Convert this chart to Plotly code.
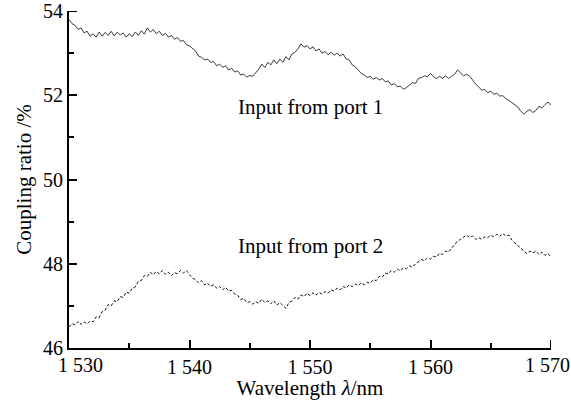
import plotly.graph_objects as go

# Wavelength samples (nm)
wavelength = [
    1530.00, 1530.25, 1530.50, 1530.75, 1531.00, 1531.25, 1531.50, 1531.75,
    1532.00, 1532.25, 1532.50, 1532.75, 1533.00, 1533.25, 1533.50, 1533.75,
    1534.00, 1534.25, 1534.50, 1534.75, 1535.00, 1535.25, 1535.50, 1535.75,
    1536.00, 1536.25, 1536.50, 1536.75, 1537.00, 1537.25, 1537.50, 1537.75,
    1538.00, 1538.25, 1538.50, 1538.75, 1539.00, 1539.25, 1539.50, 1539.75,
    1540.00, 1540.25, 1540.50, 1540.75, 1541.00, 1541.25, 1541.50, 1541.75,
    1542.00, 1542.25, 1542.50, 1542.75, 1543.00, 1543.25, 1543.50, 1543.75,
    1544.00, 1544.25, 1544.50, 1544.75, 1545.00, 1545.25, 1545.50, 1545.75,
    1546.00, 1546.25, 1546.50, 1546.75, 1547.00, 1547.25, 1547.50, 1547.75,
    1548.00, 1548.25, 1548.50, 1548.75, 1549.00, 1549.25, 1549.50, 1549.75,
    1550.00, 1550.25, 1550.50, 1550.75, 1551.00, 1551.25, 1551.50, 1551.75,
    1552.00, 1552.25, 1552.50, 1552.75, 1553.00, 1553.25, 1553.50, 1553.75,
    1554.00, 1554.25, 1554.50, 1554.75, 1555.00, 1555.25, 1555.50, 1555.75,
    1556.00, 1556.25, 1556.50, 1556.75, 1557.00, 1557.25, 1557.50, 1557.75,
    1558.00, 1558.25, 1558.50, 1558.75, 1559.00, 1559.25, 1559.50, 1559.75,
    1560.00, 1560.25, 1560.50, 1560.75, 1561.00, 1561.25, 1561.50, 1561.75,
    1562.00, 1562.25, 1562.50, 1562.75, 1563.00, 1563.25, 1563.50, 1563.75,
    1564.00, 1564.25, 1564.50, 1564.75, 1565.00, 1565.25, 1565.50, 1565.75,
    1566.00, 1566.25, 1566.50, 1566.75, 1567.00, 1567.25, 1567.50, 1567.75,
    1568.00, 1568.25, 1568.50, 1568.75, 1569.00, 1569.25, 1569.50, 1569.75,
    1570.00,
]

# Coupling ratio (%), input from port 1
port1 = [
    53.80, 53.70, 53.66, 53.56, 53.60, 53.48, 53.52, 53.40,
    53.46, 53.38, 53.50, 53.40, 53.49, 53.42, 53.52, 53.41,
    53.50, 53.43, 53.48, 53.38, 53.46, 53.39, 53.50, 53.42,
    53.53, 53.45, 53.60, 53.50, 53.56, 53.46, 53.52, 53.42,
    53.47, 53.38, 53.42, 53.33, 53.37, 53.28, 53.30, 53.20,
    53.17, 53.10, 53.05, 52.93, 52.90, 52.84, 52.86, 52.78,
    52.80, 52.70, 52.74, 52.66, 52.70, 52.60, 52.64, 52.55,
    52.58, 52.48, 52.50, 52.43, 52.47, 52.45, 52.54, 52.62,
    52.74, 52.66, 52.78, 52.72, 52.84, 52.75, 52.86, 52.78,
    52.92, 52.84, 52.98, 53.02, 53.10, 53.22, 53.14, 53.18,
    53.10, 53.15, 53.05, 53.10, 53.00, 53.04, 52.96, 53.02,
    52.95, 53.00, 52.93, 52.98, 52.86, 52.84, 52.72, 52.68,
    52.60, 52.52, 52.48, 52.42, 52.45, 52.38, 52.42, 52.36,
    52.40, 52.32, 52.34, 52.24, 52.28, 52.20, 52.22, 52.14,
    52.18, 52.24, 52.30, 52.28, 52.40, 52.42, 52.46, 52.44,
    52.52, 52.44, 52.40, 52.45, 52.40, 52.46, 52.40, 52.45,
    52.50, 52.60, 52.52, 52.46, 52.50, 52.45, 52.36, 52.26,
    52.20, 52.12, 52.14, 52.06, 52.10, 52.02, 52.05, 51.98,
    51.99, 51.92, 51.88, 51.82, 51.78, 51.72, 51.62, 51.55,
    51.62, 51.66, 51.59, 51.64, 51.74, 51.70, 51.78, 51.84,
    51.76,
]

# Coupling ratio (%), input from port 2
port2 = [
    46.50, 46.58, 46.55, 46.63, 46.56, 46.62, 46.57, 46.64,
    46.62, 46.74, 46.72, 46.86, 46.90, 47.03, 47.00, 47.12,
    47.10, 47.22, 47.20, 47.33, 47.30, 47.42, 47.45, 47.58,
    47.60, 47.72, 47.70, 47.80, 47.74, 47.82, 47.76, 47.84,
    47.75, 47.80, 47.72, 47.79, 47.76, 47.84, 47.78, 47.84,
    47.74, 47.66, 47.62, 47.55, 47.60, 47.50, 47.54, 47.46,
    47.50, 47.42, 47.46, 47.38, 47.44, 47.35, 47.37, 47.28,
    47.25, 47.15, 47.18, 47.08, 47.10, 47.04, 47.10, 47.06,
    47.16, 47.08, 47.12, 47.05, 47.12, 47.02, 47.08, 47.00,
    46.94, 47.08, 47.12, 47.20, 47.16, 47.26, 47.22, 47.30,
    47.24, 47.31, 47.26, 47.32, 47.28, 47.34, 47.30, 47.38,
    47.35, 47.42, 47.38, 47.46, 47.42, 47.50, 47.46, 47.52,
    47.48, 47.55, 47.50, 47.56, 47.54, 47.62, 47.60, 47.70,
    47.68, 47.78, 47.76, 47.84, 47.80, 47.87, 47.83, 47.90,
    47.88, 47.95, 47.92, 48.00, 48.06, 48.10, 48.07, 48.14,
    48.11, 48.18, 48.16, 48.25, 48.22, 48.30, 48.28, 48.36,
    48.44, 48.54, 48.58, 48.64, 48.68, 48.62, 48.66, 48.58,
    48.62, 48.58, 48.64, 48.62, 48.68, 48.64, 48.70, 48.65,
    48.72, 48.66, 48.68, 48.56, 48.50, 48.42, 48.38, 48.30,
    48.24, 48.30, 48.26, 48.30, 48.22, 48.28, 48.20, 48.24,
    48.16,
]

x_tickvals = [1530, 1540, 1550, 1560, 1570]
x_ticktext = ["1 530", "1 540", "1 550", "1 560", "1 570"]
y_tickvals = [46, 48, 50, 52, 54]
y_ticktext = ["46", "48", "50", "52", "54"]

label1 = "Input from port 1"
label2 = "Input from port 2"

FONT = "'Times New Roman', 'Liberation Serif', Tinos, serif"
MAJOR_LEN = 8

fig = go.Figure()
fig.add_trace(go.Scatter(
    x=wavelength, y=port1, mode="lines",
    line=dict(color="#3a3a3a", width=1), showlegend=False,
))
fig.add_trace(go.Scatter(
    x=wavelength, y=port2, mode="lines",
    line=dict(color="#111111", width=1, dash="3px,2px"), showlegend=False,
))

# end labels are drawn as annotations so they can be nudged like the original
end_labels = {0: 11, 4: -4}
ticktext_axis = [("" if i in end_labels else t) for i, t in enumerate(x_ticktext)]
for i, shift in end_labels.items():
    fig.add_annotation(
        x=x_tickvals[i], y=0, xref="x", yref="paper",
        text=x_ticktext[i], showarrow=False,
        xanchor="center", yanchor="top", xshift=shift, yshift=-4,
        font=dict(family=FONT, size=20, color="black"),
    )

# Plotly hides inside ticks at the range ends; redraw the top y tick and right x tick
fig.add_shape(type="line", xref="x domain", yref="y", x0=0, x1=MAJOR_LEN / 482,
              y0=y_tickvals[-1], y1=y_tickvals[-1],
              line=dict(color="black", width=2))
fig.add_shape(type="line", xref="x", yref="y domain", x0=x_tickvals[-1], x1=x_tickvals[-1],
              y0=0, y1=MAJOR_LEN / 337, line=dict(color="black", width=2))

fig.add_annotation(x=1550, y=51.72, text=label1, showarrow=False,
                   xanchor="center", yanchor="middle",
                   font=dict(family=FONT, size=21, color="black"))
fig.add_annotation(x=1550, y=48.43, text=label2, showarrow=False,
                   xanchor="center", yanchor="middle",
                   font=dict(family=FONT, size=21, color="black"))

fig.update_layout(
    width=571, height=400,
    margin=dict(l=69, r=20, t=11, b=52, autoexpand=False),
    paper_bgcolor="white", plot_bgcolor="white",
    font=dict(family=FONT, size=20, color="black"),
    xaxis=dict(
        range=[1530, 1570], tickmode="array", automargin=False,
        tickvals=x_tickvals, ticktext=ticktext_axis,
        ticks="inside", ticklen=MAJOR_LEN, tickwidth=2, tickcolor="black",
        minor=dict(tickmode="linear", tick0=1535, dtick=10, ticks="inside",
                   ticklen=5, tickwidth=2, tickcolor="black"),
        showline=True, linecolor="black", linewidth=2,
        showgrid=False, zeroline=False,
        title=dict(text="Wavelength <i>λ</i>/nm", standoff=2,
                   font=dict(family=FONT, size=21)),
        tickfont=dict(family=FONT, size=20),
    ),
    yaxis=dict(
        range=[46, 54], tickmode="array", automargin=False,
        tickvals=y_tickvals, ticktext=y_ticktext,
        ticks="inside", ticklen=MAJOR_LEN, tickwidth=2, tickcolor="black",
        minor=dict(tickmode="linear", tick0=47, dtick=2, ticks="inside",
                   ticklen=5, tickwidth=2, tickcolor="black"),
        showline=True, linecolor="black", linewidth=2,
        showgrid=False, zeroline=False,
        title=dict(text="Coupling ratio /%", standoff=6,
                   font=dict(family=FONT, size=21)),
        tickfont=dict(family=FONT, size=20),
    ),
)

fig.write_html("out.html")
